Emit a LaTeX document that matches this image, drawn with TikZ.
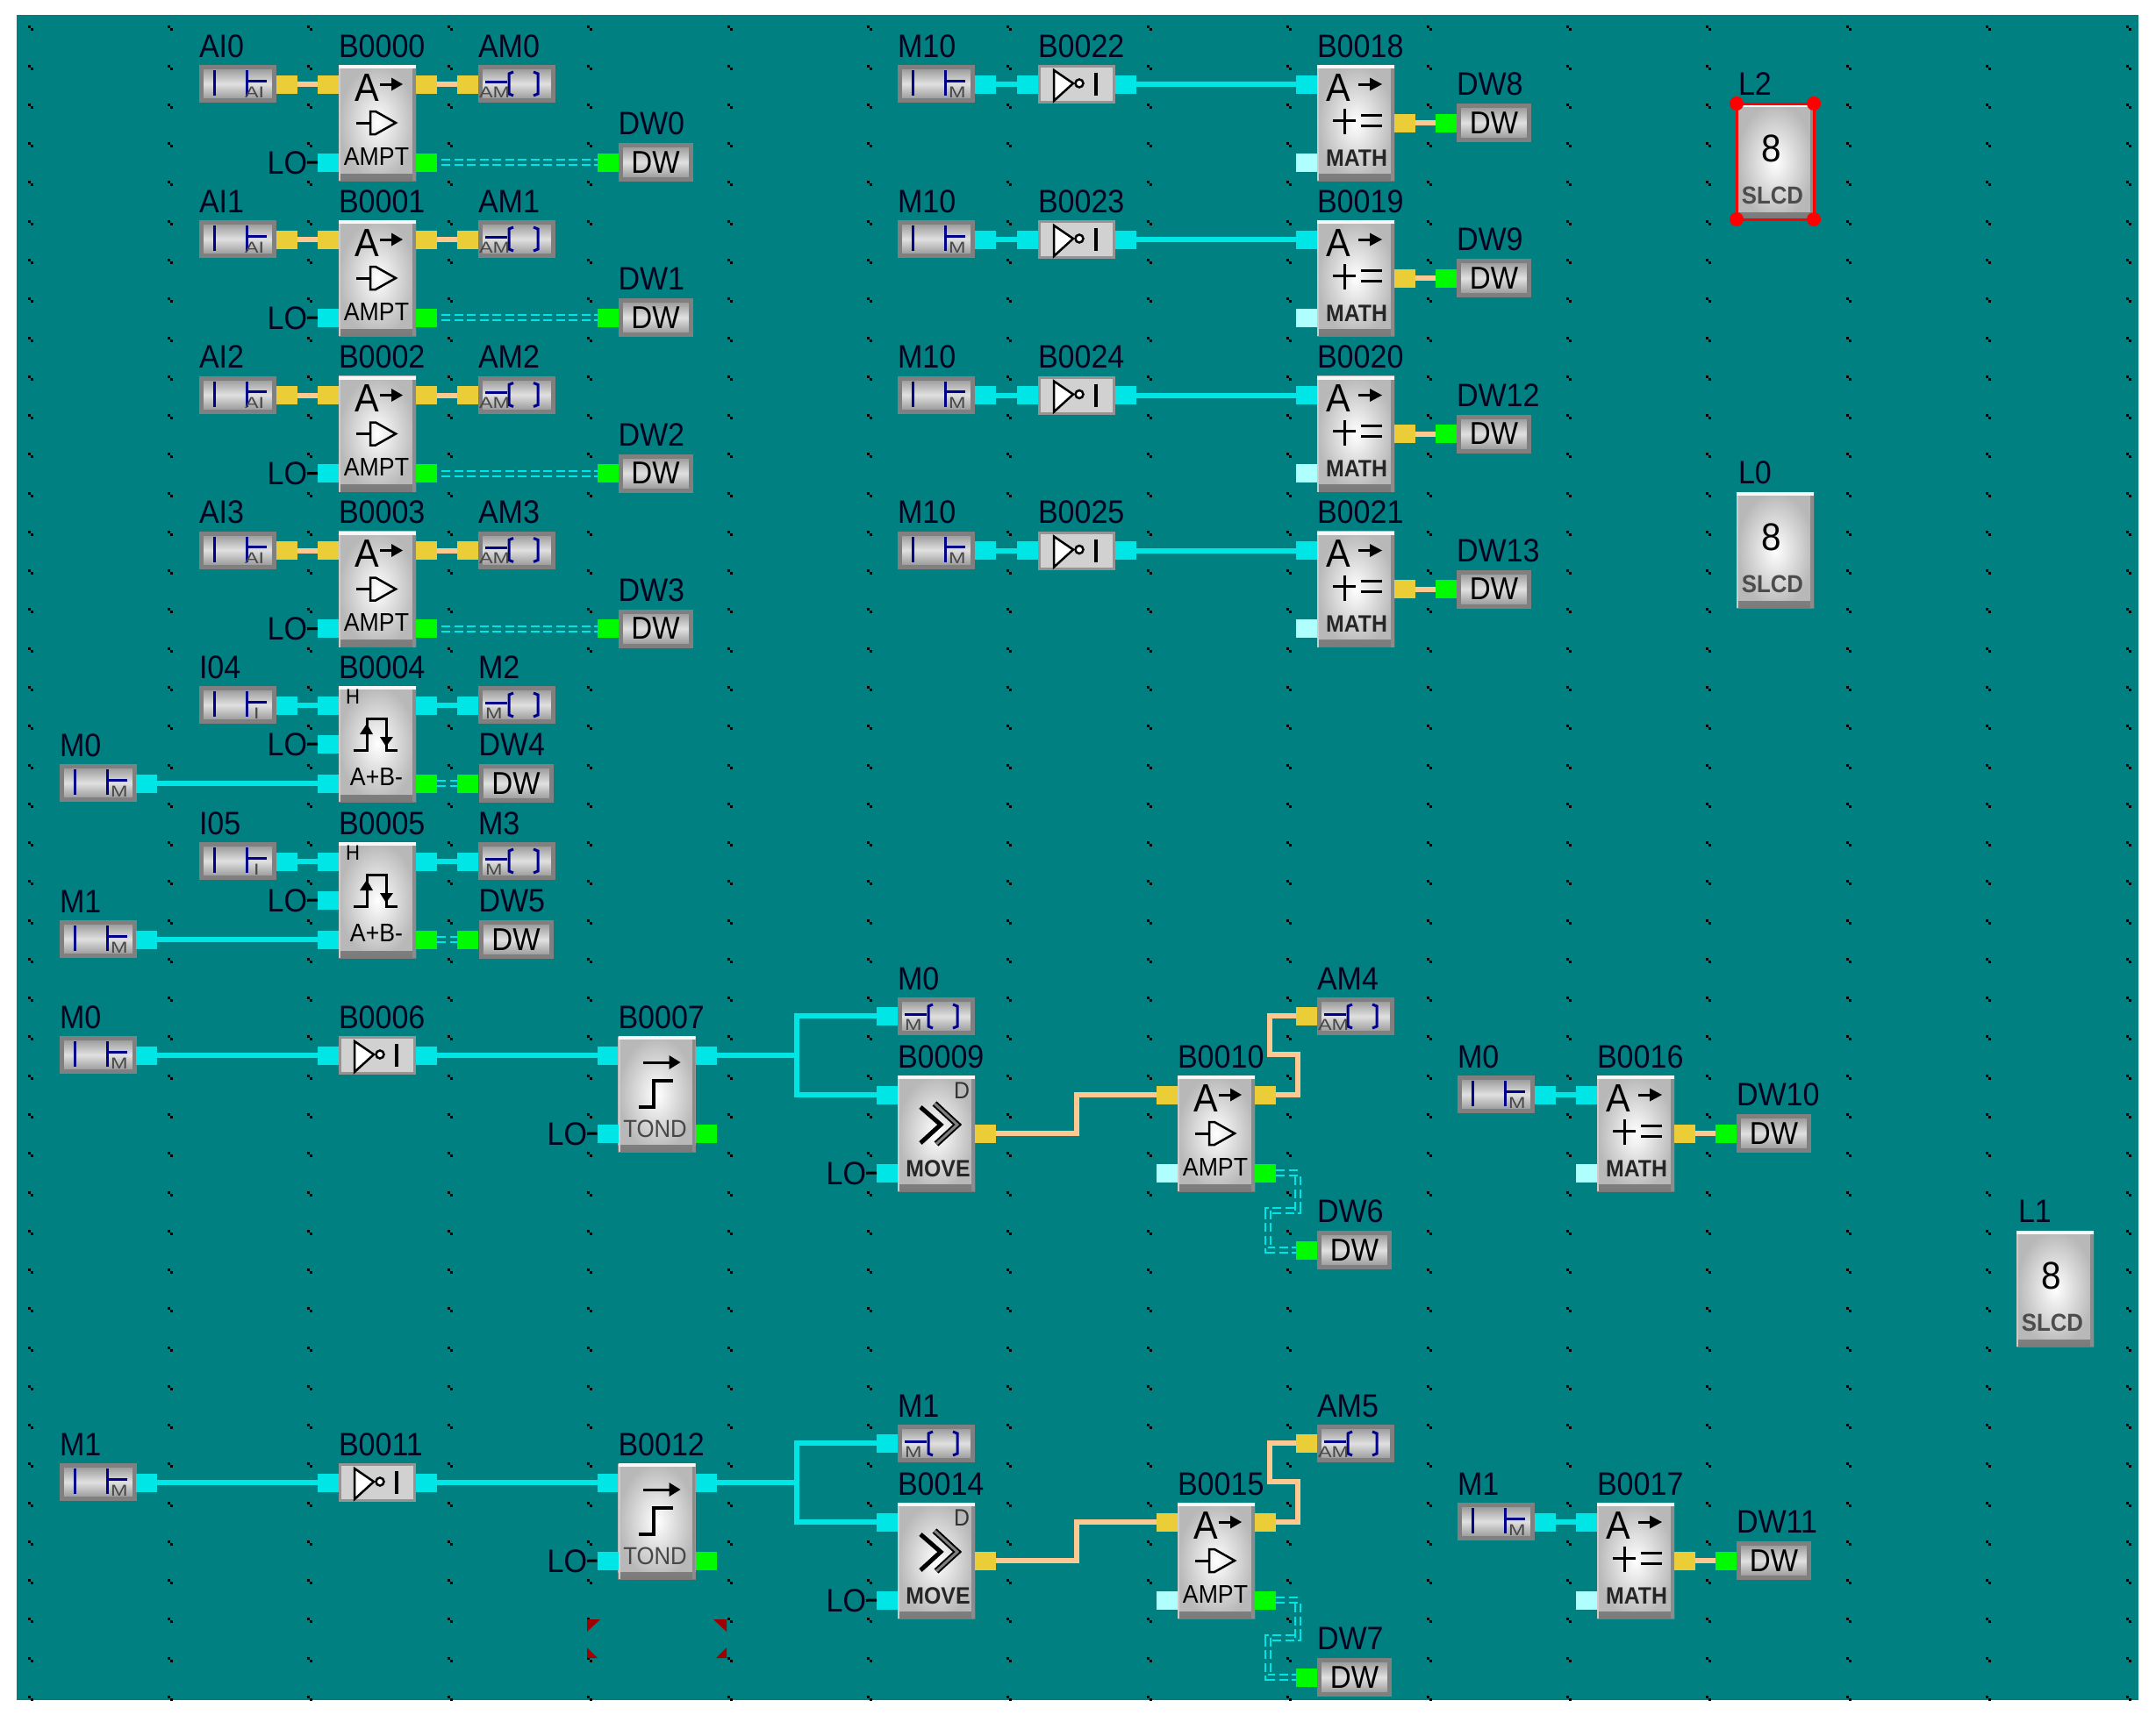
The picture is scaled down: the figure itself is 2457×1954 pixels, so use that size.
\documentclass[tikz,border=0pt]{standalone}
\usepackage{fontspec}
\setmainfont[FakeStretch=0.92]{Liberation Sans}
\newfontfamily\tagf[FakeStretch=1.3]{Liberation Sans}
\definecolor{bgteal}{HTML}{008080}
\definecolor{wcy}{HTML}{00E6E6}
\definecolor{wye}{HTML}{EBCD37}
\definecolor{wpe}{HTML}{FFC890}
\definecolor{wgr}{HTML}{00FA00}
\definecolor{wpa}{HTML}{B0FFFF}
\definecolor{bluec}{HTML}{00008C}
\definecolor{labc}{HTML}{040420}
\definecolor{boxe}{HTML}{808080}
\definecolor{redm}{HTML}{A00000}
\newcommand{\lblf}{\fontsize{37}{40}\selectfont}
\tikzset{
  lbl/.style={inner sep=0pt,outer sep=0pt,anchor=base west,text=labc,font=\lblf},
  lotext/.style={inner sep=0pt,outer sep=0pt,anchor=base east,text=labc,font=\lblf},
  portbox/.style={rectangle,inner sep=0pt,outer sep=0pt,minimum width=24pt,minimum height=21pt},
  smallbox/.style={rectangle,inner sep=0pt,outer sep=0pt,minimum width=83pt,minimum height=38pt,draw=boxe,line width=5pt,
     top color=black!42,bottom color=black!42,middle color=black!12},
  dwbox/.style={smallbox,minimum width=80pt,minimum height=39pt},
  notboxs/.style={rectangle,inner sep=0pt,outer sep=0pt,minimum width=85pt,minimum height=41pt,draw=black!42,line width=3pt,fill=black!18},
  blockbox/.style={rectangle,inner sep=0pt,outer sep=0pt,minimum width=88pt,minimum height=132pt,
     inner color=white,outer color=black!28,
     path picture={
       \shade[top color=black!28,bottom color=black!52] ([yshift=8pt]path picture bounding box.south west) rectangle (path picture bounding box.south east);
       \fill[black!45] (path picture bounding box.north east) rectangle ([xshift=-4pt]path picture bounding box.south east);
       \fill[black!20] (path picture bounding box.north west) rectangle ([xshift=2pt]path picture bounding box.south west);
       \fill[black!3] (path picture bounding box.north west) rectangle ([yshift=-4pt]path picture bounding box.north east);
     }},
  wirec/.style={draw=wcy,line width=6pt},
  wirep/.style={draw=wpe,line width=6pt},
  wired/.style={draw=wcy,line width=2pt,double=bgteal,double distance=4pt,dash pattern=on 10pt off 4.5pt},
  loline/.style={draw=black,line width=3pt},
  cont/.style={draw=bluec,line width=3pt},
  sym/.style={draw=black,line width=3pt},
  tagtext/.style={inner sep=0pt,outer sep=0pt,anchor=base west,text=black!72,font=\tagf\fontsize{18}{19}\selectfont},
  smtext/.style={inner sep=0pt,outer sep=0pt,anchor=center,text=black,font=\fontsize{36}{38}\selectfont},
  btext/.style={inner sep=0pt,outer sep=0pt,anchor=base,text=black,font=\fontsize{29}{31}\selectfont},
  btextb/.style={inner sep=0pt,outer sep=0pt,anchor=base,text=black!85,font=\fontsize{27}{30}\selectfont\bfseries},
  btextg/.style={inner sep=0pt,outer sep=0pt,anchor=base,text=black!72,font=\fontsize{28}{30}\selectfont},
  slcdt/.style={inner sep=0pt,outer sep=0pt,anchor=base,text=black!70,font=\fontsize{28}{30}\selectfont\bfseries},
  bigA/.style={inner sep=0pt,outer sep=0pt,anchor=base,text=black,font=\fontsize{45}{48}\selectfont},
  hand/.style={fill=red},
}
% generic elements
\newcommand{\port}[4]{\node[portbox,fill=#4] (#1) at (#2+12,#3) {};}
\newcommand{\inbox}[6]{%
  \node[smallbox] (#1) at (#2+44,#3+21.5) {};
  \node[lbl] (#1l) at (#2,#3-9) {#4};
  \draw[cont] (#2+17,#3+6) -- (#2+17,#3+35);
  \draw[cont] (#2+54,#3+6) -- (#2+54,#3+35);
  \draw[cont] (#2+54,#3+18) -- (#2+77,#3+18);
  \node[tagtext] (#1g) at (#2+#6,#3+37) {#5};}
\newcommand{\outbox}[6]{%
  \node[smallbox] (#1) at (#2+44,#3+21.5) {};
  \node[lbl] (#1l) at (#2,#3-9) {#4};
  \draw[cont] (#2+8,#3+19) -- (#2+33,#3+19);
  \draw[cont] (#2+40,#3+8) -- (#2+35,#3+10) -- (#2+35,#3+33) -- (#2+40,#3+35);
  \draw[cont] (#2+63,#3+8) -- (#2+68,#3+10) -- (#2+68,#3+33) -- (#2+63,#3+35);
  \node[tagtext] (#1g) at (#2+#6,#3+37) {#5};}
\newcommand{\dwb}[4]{%
  \node[dwbox] (#1) at (#2+42.5,#3+22) {};
  \node[smtext] (#1t) at (#2+42.5,#3+22) {DW};
  \node[lbl] (#1l) at (#2,#3-9.5) {#4};}
\newcommand{\notb}[4]{%
  \node[notboxs] (#1) at (#2+44,#3+22) {};
  \node[lbl] (#1l) at (#2,#3-9) {#4};
  \draw[draw=black,line width=2.5pt,fill=white] (#2+18,#3+6) -- (#2+40,#3+21) -- (#2+18,#3+41) -- cycle;
  \draw[draw=black,line width=2.5pt,fill=white] (#2+47,#3+21) circle[radius=4.5pt];
  \draw[draw=black,line width=4pt] (#2+66,#3+9) -- (#2+66,#3+35);}
\newcommand{\blk}[4]{%
  \node[blockbox] (#1) at (#2+44,#3+66) {};
  \node[lbl] (#1l) at (#2,#3-9) {#4};}
\newcommand{\amptsym}[3]{%
  \node[bigA] (#1A) at (#2+32,#3+41) {A};
  \draw[sym] (#2+47,#3+22) -- (#2+62,#3+22);
  \fill[black] (#2+60,#3+14.5) -- (#2+73,#3+22) -- (#2+60,#3+29.5) -- cycle;
  \draw[sym] (#2+20,#3+66) -- (#2+36,#3+66);
  \draw[draw=black,line width=2.5pt] (#2+42,#3+53) -- (#2+36,#3+53) -- (#2+36,#3+79) -- (#2+42,#3+79) -- (#2+65,#3+66) -- cycle;
  \node[btext] (#1t) at (#2+43,#3+114) {AMPT};}
\newcommand{\mathsym}[3]{%
  \node[bigA] (#1A) at (#2+24,#3+41) {A};
  \draw[sym] (#2+47,#3+22) -- (#2+62,#3+22);
  \fill[black] (#2+60,#3+14.5) -- (#2+74,#3+22) -- (#2+60,#3+29.5) -- cycle;
  \draw[sym] (#2+18,#3+63) -- (#2+44,#3+63);
  \draw[sym] (#2+31,#3+50) -- (#2+31,#3+79);
  \draw[sym] (#2+50,#3+57) -- (#2+74,#3+57);
  \draw[sym] (#2+50,#3+69) -- (#2+74,#3+69);
  \node[btextb] (#1t) at (#2+45,#3+115) {MATH};}
\newcommand{\edgesym}[3]{%
  \node[inner sep=0pt,outer sep=0pt,anchor=base west,text=black,font=\fontsize{24}{26}\selectfont] (#1h) at (#2+8,#3+20) {H};
  \draw[sym] (#2+17,#3+73) -- (#2+32,#3+73) -- (#2+32,#3+37) -- (#2+54,#3+37) -- (#2+54,#3+73) -- (#2+67,#3+73);
  \fill[black] (#2+24,#3+55) -- (#2+32,#3+43) -- (#2+39,#3+55) -- cycle;
  \fill[black] (#2+47,#3+58) -- (#2+54,#3+69) -- (#2+62,#3+58) -- cycle;
  \node[btext] (#1t) at (#2+43,#3+113) {A+B-};}
\newcommand{\movesym}[3]{%
  \draw[black,line width=7pt,miter limit=10] (#2+42,#3+32) -- (#2+68,#3+56) -- (#2+44,#3+78);
  \draw[black!50,line width=3pt] (#2+42,#3+32) -- (#2+68,#3+56) -- (#2+44,#3+78);
  \draw[black,line width=5pt] (#2+26,#3+36) -- (#2+49,#3+56) -- (#2+26,#3+77);
  \node[inner sep=0pt,outer sep=0pt,anchor=base east,text=black!80,font=\fontsize{27}{29}\selectfont] (#1d) at (#2+82,#3+26) {D};
  \node[btextb] (#1t) at (#2+46,#3+115) {MOVE};}
\newcommand{\tondsym}[3]{%
  \draw[sym] (#2+28,#3+30) -- (#2+60,#3+30);
  \fill[black] (#2+58,#3+22) -- (#2+71,#3+30) -- (#2+58,#3+38) -- cycle;
  \draw[draw=black,line width=4pt] (#2+23,#3+81) -- (#2+40,#3+81) -- (#2+40,#3+51) -- (#2+62,#3+51);
  \node[btextg] (#1t) at (#2+42,#3+115) {TOND};}
\newcommand{\slcd}[4]{%
  \node[blockbox] (#1) at (#2+44,#3+66) {};
  \node[lbl] (#1l) at (#2+2,#3-10) {#4};
  \node[inner sep=0pt,outer sep=0pt,anchor=center,text=black,font=\fontsize{44}{48}\selectfont] (#1e) at (#2+40,#3+51) {8};
  \node[slcdt] (#1t) at (#2+41,#3+114) {SLCD};}
\newcommand{\lo}[3]{% name, target port, T-base position
  \node[lotext] (#1) at #3 {LO};
  \draw[loline] (#1.east) -- (#2.west);}
\begin{document}
\begin{tikzpicture}[x=1pt,y=-1pt]
\useasboundingbox (0,0) rectangle (2457,1954);
\fill[white] (0,0) rectangle (2457,1954);
\fill[bgteal] (19,17) rectangle (2437,1938);
\begin{scope}
\clip (19,17) rectangle (2437,1938);
\foreach \i in {0,...,15} {
  \foreach \j in {0,...,43} {
    \pgfmathsetmacro{\dx}{34.5+159.4*\i}
    \pgfmathsetmacro{\dy}{32.4+44.27*\j}
    \fill[black] (\dx-3,\dy-3) rectangle (\dx,\dy);
    \fill[black] (\dx,\dy) rectangle (\dx+3,\dy+3);
  }
}
\end{scope}
% analog rows
\foreach \n/\T/\bn in {0/74/B0000,1/251/B0001,2/428.5/B0002,3/605.5/B0003} {
  \inbox{AI\n}{227}{\T}{AI\n}{AI}{52}
  \port{AI\n o}{315}{\T+22}{wye}
  \port{\bn a}{362}{\T+22}{wye}
  \blk{\bn}{386}{\T}{\bn}
  \amptsym{\bn}{386}{\T}
  \port{\bn b}{362}{\T+111}{wcy}
  \lo{LO\n}{\bn b}{(350,\T+124)}
  \port{\bn o}{474}{\T+22}{wye}
  \port{\bn g}{474}{\T+111}{wgr}
  \port{AM\n i}{521}{\T+22}{wye}
  \outbox{AM\n}{545}{\T}{AM\n}{AM}{1}
  \port{DW\n i}{680.5}{\T+111}{wgr}
  \dwb{DW\n}{704.5}{\T+89}{DW\n}
  \draw[wirep] (AI\n o.east) -- (\bn a.west);
  \draw[wirep] (\bn o.east) -- (AM\n i.west);
  \draw[wired] ([xshift=5pt]\bn g.east) -- (DW\n i.west);
}
% edge rows
\foreach \n/\T/\bn/\ii/\cc/\mm/\dw in {4/782/B0004/I04/M2/M0/DW4,5/960/B0005/I05/M3/M1/DW5} {
  \inbox{\ii}{227}{\T}{\ii}{I}{62}
  \port{\ii o}{315}{\T+22}{wcy}
  \port{\bn a}{362}{\T+22}{wcy}
  \blk{\bn}{386}{\T}{\bn}
  \edgesym{\bn}{386}{\T}
  \port{\bn m}{362}{\T+66}{wcy}
  \lo{LO\n}{\bn m}{(350,\T+79)}
  \port{\bn b}{362}{\T+111}{wcy}
  \inbox{E\mm}{68}{\T+89}{\mm}{M}{58}
  \port{E\mm o}{155}{\T+111}{wcy}
  \port{\bn o}{474}{\T+22}{wcy}
  \port{\bn g}{474}{\T+111}{wgr}
  \port{\cc i}{521}{\T+22}{wcy}
  \outbox{\cc}{545}{\T}{\cc}{M}{8}
  \port{\dw i}{521}{\T+111}{wgr}
  \dwb{\dw}{545.5}{\T+89}{\dw}
  \draw[wirec] (\ii o.east) -- (\bn a.west);
  \draw[wirec] (E\mm o.east) -- (\bn b.west);
  \draw[wirec] (\bn o.east) -- (\cc i.west);
  \draw[wired] (\bn g.east) -- (\dw i.west);
}
% top middle rows
\foreach \n/\T/\nb/\mb/\dw in {0/74/B0022/B0018/DW8,1/251/B0023/B0019/DW9,2/428.5/B0024/B0020/DW12,3/605.5/B0025/B0021/DW13} {
  \inbox{MX\n}{1023}{\T}{M10}{M}{58}
  \port{MX\n o}{1111}{\T+22}{wcy}
  \port{\nb a}{1159}{\T+22}{wcy}
  \notb{\nb}{1183}{\T}{\nb}
  \port{\nb o}{1271}{\T+22}{wcy}
  \port{\mb a}{1477}{\T+22}{wcy}
  \blk{\mb}{1501}{\T}{\mb}
  \mathsym{\mb}{1501}{\T}
  \port{\mb b}{1477}{\T+111}{wpa}
  \port{\mb o}{1589}{\T+66}{wye}
  \port{\dw i}{1636}{\T+66}{wgr}
  \dwb{\dw}{1660}{\T+44}{\dw}
  \draw[wirec] (MX\n o.east) -- (\nb a.west);
  \draw[wirec] (\nb o.east) -- (\mb a.west);
  \draw[wirep] (\mb o.east) -- (\dw i.west);
}
% timer groups
\foreach \s/\d/\mm/\ba/\bb/\bc/\bd/\am/\dw/\be/\dx in {u/0/M0/B0006/B0007/B0009/B0010/AM4/DW6/B0016/DW10,v/487/M1/B0011/B0012/B0014/B0015/AM5/DW7/B0017/DW11} {
  \inbox{L\s}{68}{\d+1181}{\mm}{M}{58}
  \port{L\s o}{155}{\d+1203}{wcy}
  \port{\ba a}{362}{\d+1203}{wcy}
  \notb{\ba}{386}{\d+1181}{\ba}
  \port{\ba o}{474}{\d+1203}{wcy}
  \port{\bb a}{680.5}{\d+1203}{wcy}
  \blk{\bb}{704.5}{\d+1181}{\bb}
  \tondsym{\bb}{704.5}{\d+1181}
  \port{\bb b}{680.5}{\d+1292}{wcy}
  \lo{LO\s a}{\bb b}{(669,\d+1305)}
  \port{\bb o}{793}{\d+1203}{wcy}
  \port{\bb g}{793}{\d+1292}{wgr}
  \port{C\s i}{999}{\d+1158}{wcy}
  \outbox{C\s}{1023}{\d+1137}{\mm}{M}{8}
  \port{\bc a}{999}{\d+1248}{wcy}
  \blk{\bc}{1023}{\d+1226}{\bc}
  \movesym{\bc}{1023}{\d+1226}
  \port{\bc b}{999}{\d+1337}{wcy}
  \lo{LO\s b}{\bc b}{(987,\d+1350)}
  \port{\bc o}{1111}{\d+1292}{wye}
  \port{\bd a}{1318}{\d+1248}{wye}
  \blk{\bd}{1342}{\d+1226}{\bd}
  \amptsym{\bd}{1342}{\d+1226}
  \port{\bd b}{1318}{\d+1337}{wpa}
  \port{\bd o}{1430}{\d+1248}{wye}
  \port{\bd g}{1430}{\d+1337}{wgr}
  \port{\am i}{1477}{\d+1158}{wye}
  \outbox{\am}{1501}{\d+1137}{\am}{AM}{1}
  \port{\dw i}{1477}{\d+1425}{wgr}
  \dwb{\dw}{1501}{\d+1403}{\dw}
  \inbox{R\s}{1661}{\d+1226}{\mm}{M}{58}
  \port{R\s o}{1749}{\d+1248}{wcy}
  \port{\be a}{1796}{\d+1248}{wcy}
  \blk{\be}{1820}{\d+1226}{\be}
  \mathsym{\be}{1820}{\d+1226}
  \port{\be b}{1796}{\d+1337}{wpa}
  \port{\be o}{1908}{\d+1292}{wye}
  \port{\dx i}{1955}{\d+1292}{wgr}
  \dwb{\dx}{1979}{\d+1270}{\dx}
  \coordinate (j\s) at (908,\d+1203);
  \coordinate (m\s) at (1227,\d+1248);
  \coordinate (r1\s) at (1479,\d+1202);
  \coordinate (r2\s) at (1447,\d+1202);
  \coordinate (q1\s) at (1479,\d+1380);
  \coordinate (q2\s) at (1445,\d+1380);
  \draw[wirec] (L\s o.east) -- (\ba a.west);
  \draw[wirec] (\ba o.east) -- (\bb a.west);
  \draw[wirec] (\bb o.east) -- (j\s);
  \draw[wirec] (j\s) |- (C\s i.west);
  \draw[wirec] (j\s) |- (\bc a.west);
  \draw[wirep] (\bc o.east) -| (m\s) -- (\bd a.west);
  \draw[wirep] (\bd o.east) -| (r1\s) -- (r2\s) |- (\am i.west);
  \draw[wired] (\bd g.east) -| (q1\s) -- (q2\s) |- (\dw i.west);
  \draw[wirec] (R\s o.east) -- (\be a.west);
  \draw[wirep] (\be o.east) -- (\dx i.west);
}
% displays
\slcd{L2}{1979}{118}{L2}
\slcd{L0}{1979}{561}{L0}
\slcd{L1}{2298}{1403}{L1}
% selection marks of L2
\draw[red,line width=3pt] (L2.north west) rectangle (L2.south east);
\fill[hand] (L2.north west) circle[radius=8pt];
\fill[hand] (L2.north east) circle[radius=8pt];
\fill[hand] (L2.south west) circle[radius=8pt];
\fill[hand] (L2.south east) circle[radius=8pt];
% red corner marks
\fill[redm] (669,1846) -- (684,1846) -- (669,1860) -- cycle;
\fill[redm] (813,1846) -- (828,1846) -- (828,1860) -- cycle;
\fill[redm] (669,1878) -- (669,1890) -- (681,1890) -- cycle;
\fill[redm] (828,1878) -- (828,1890) -- (816,1890) -- cycle;
\end{tikzpicture}
\end{document}
